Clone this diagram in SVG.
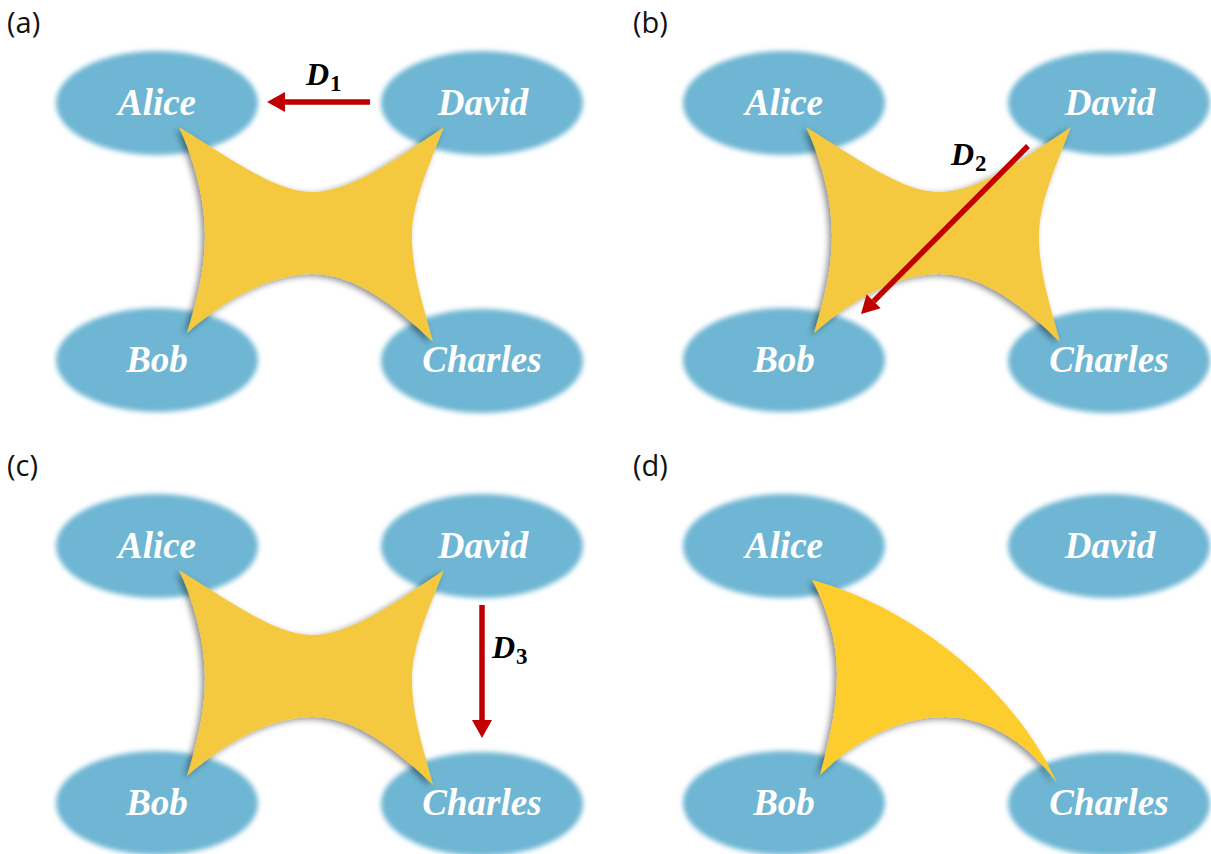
<svg xmlns="http://www.w3.org/2000/svg" xmlns:xlink="http://www.w3.org/1999/xlink" width="1211" height="854" viewBox="0 0 1211 854">
<style>
.bg{fill:#ffffff}
.node ellipse{fill:#6EB6D3;filter:url(#soft)}
.node text{fill:#ffffff;font-family:"Liberation Serif",serif;font-weight:bold;font-style:italic;font-size:37px;text-anchor:middle}
.panel{font-family:"Open Sans","Noto Sans",sans-serif;font-size:29px;fill:#111}
.star{fill:#F4C93F;filter:url(#shadow)}
.star-d{fill:#FDCD2F;filter:url(#shadow)}
.arrow{stroke:#C00000;stroke-width:5.5;fill:none;marker-end:url(#head)}
.lbl{font-family:"Liberation Serif",serif;font-weight:bold;fill:#000}
.lbl .D{font-style:italic;font-size:32px}
.lbl .sub{font-size:23px}
</style>
<defs>
<filter id="soft" x="-20%" y="-20%" width="140%" height="140%"><feGaussianBlur stdDeviation="2.5"/></filter>
<filter id="shadow" x="-20%" y="-20%" width="140%" height="140%"><feDropShadow dx="-3" dy="2" stdDeviation="3" flood-color="#000" flood-opacity="0.45"/></filter>
<marker id="head" viewBox="0 0 18 20" refX="0" refY="10" markerWidth="18" markerHeight="20" markerUnits="userSpaceOnUse" orient="auto"><path d="M0,0 L18,10 L0,20 z" fill="#C00000"/></marker>
<path id="star4" d="M179,127 C230,158 275,192 312,192 C350,192 395,160 444,127 C425,175 412,205 412,237 C412,275 425,310 433,342 C395,305 355,274 312,274 C270,274 225,300 187,333 C197,300 205,270 205,235 C205,195 192,155 179,127 Z"/>
</defs>
<rect class="bg" x="0" y="0" width="1211" height="854"/>

<!-- panel labels -->
<text class="panel" x="7" y="33">(a)</text>
<text class="panel" x="633" y="33">(b)</text>
<text class="panel" x="7" y="476">(c)</text>
<text class="panel" x="633" y="476">(d)</text>

<!-- panel a -->
<g id="a-alice" class="node"><ellipse cx="157" cy="103" rx="101" ry="52"/><text x="157" y="115">Alice</text></g>
<g id="a-david" class="node"><ellipse cx="482" cy="103" rx="101" ry="52"/><text x="483" y="115">David</text></g>
<g id="a-bob" class="node"><ellipse cx="157" cy="360" rx="101" ry="52"/><text x="157" y="372">Bob</text></g>
<g id="a-charles" class="node"><ellipse cx="482" cy="361" rx="101" ry="52"/><text x="482" y="372">Charles</text></g>
<g id="a-hyperedge"><use xlink:href="#star4" class="star"/></g>

<!-- panel b -->
<g transform="translate(627,0)">
<g id="b-alice" class="node"><ellipse cx="157" cy="103" rx="101" ry="52"/><text x="157" y="115">Alice</text></g>
<g id="b-david" class="node"><ellipse cx="482" cy="103" rx="101" ry="52"/><text x="483" y="115">David</text></g>
<g id="b-bob" class="node"><ellipse cx="157" cy="360" rx="101" ry="52"/><text x="157" y="372">Bob</text></g>
<g id="b-charles" class="node"><ellipse cx="482" cy="361" rx="101" ry="52"/><text x="482" y="372">Charles</text></g>
<g id="b-hyperedge"><use xlink:href="#star4" class="star"/></g>
</g>

<!-- panel c -->
<g transform="translate(0,443)">
<g id="c-alice" class="node"><ellipse cx="157" cy="103" rx="101" ry="52"/><text x="157" y="115">Alice</text></g>
<g id="c-david" class="node"><ellipse cx="482" cy="103" rx="101" ry="52"/><text x="483" y="115">David</text></g>
<g id="c-bob" class="node"><ellipse cx="157" cy="360" rx="101" ry="52"/><text x="157" y="372">Bob</text></g>
<g id="c-charles" class="node"><ellipse cx="482" cy="361" rx="101" ry="52"/><text x="482" y="372">Charles</text></g>
<g id="c-hyperedge"><use xlink:href="#star4" class="star"/></g>
</g>

<!-- panel d -->
<g transform="translate(627,443)">
<g id="d-alice" class="node"><ellipse cx="157" cy="103" rx="101" ry="52"/><text x="157" y="115">Alice</text></g>
<g id="d-david" class="node"><ellipse cx="482" cy="103" rx="101" ry="52"/><text x="483" y="115">David</text></g>
<g id="d-bob" class="node"><ellipse cx="157" cy="360" rx="101" ry="52"/><text x="157" y="372">Bob</text></g>
<g id="d-charles" class="node"><ellipse cx="482" cy="361" rx="101" ry="52"/><text x="482" y="372">Charles</text></g>
<g id="d-hyperedge"><path class="star-d" d="M185,137 C290,165 390,250 430,340 C405,305 365,274 318,274 C270,274 225,300 193,332 C203,295 210,265 210,230 C210,195 198,160 185,137 Z"/></g>
</g>

<!-- connectors -->
<g id="connectors">
<line class="arrow" x1="370" y1="102" x2="285" y2="102"/>
<line class="arrow" x1="1028" y1="146" x2="873.7" y2="301.2"/>
<line class="arrow" x1="482" y1="605" x2="482" y2="720"/>
<text class="lbl" x="306" y="85"><tspan class="D">D</tspan><tspan class="sub" dx="1" dy="6">1</tspan></text>
<text class="lbl" x="951" y="165"><tspan class="D">D</tspan><tspan class="sub" dx="1" dy="6">2</tspan></text>
<text class="lbl" x="492" y="658"><tspan class="D">D</tspan><tspan class="sub" dx="1" dy="6">3</tspan></text>
</g>
</svg>
